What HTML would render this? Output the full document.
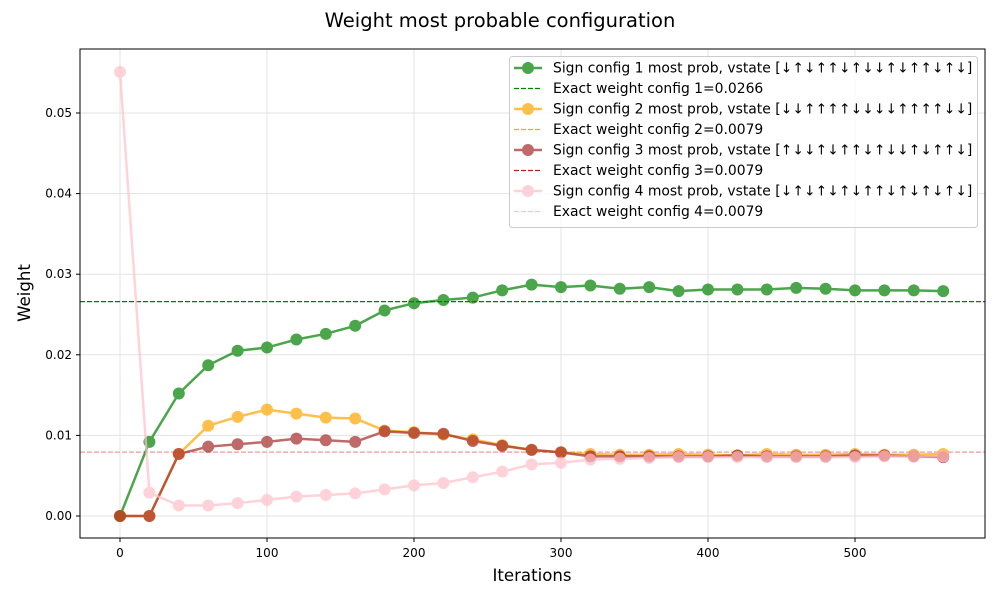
<!DOCTYPE html>
<html><head><meta charset="utf-8"><style>
body{margin:0;background:#fff;font-family:"Liberation Sans","DejaVu Sans",sans-serif}
</style></head><body>
<svg id="c" width="1000" height="600" style="font-family:'DejaVu Sans','Liberation Sans',sans-serif"></svg>
<script>
const iters=[0,20,40,60,80,100,120,140,160,180,200,220,240,260,280,300,320,340,360,380,400,420,440,460,480,500,520,540,560];
const s1=[0,0.0092,0.0152,0.0187,0.0205,0.0209,0.0219,0.0226,0.0236,0.0255,0.0264,0.0268,0.0271,0.0280,0.0287,0.0284,0.0286,0.0282,0.0284,0.0279,0.0281,0.0281,0.0281,0.0283,0.0282,0.0280,0.0280,0.0280,0.0279];
const s2=[0,0,0.0077,0.0112,0.0123,0.0132,0.0127,0.0122,0.0121,0.0106,0.0104,0.0101,0.0095,0.0088,0.0082,0.0079,0.0077,0.0076,0.0076,0.0077,0.0076,0.0075,0.0077,0.0076,0.0076,0.0077,0.0076,0.0076,0.0077];
const s3=[0,0,0.0077,0.0086,0.0089,0.0092,0.0096,0.0094,0.0092,0.0105,0.0103,0.0102,0.0093,0.0087,0.0082,0.0079,0.0074,0.0074,0.0074,0.0074,0.0074,0.0075,0.0074,0.0074,0.0074,0.0075,0.0075,0.0074,0.0073];
const s4=[0.0551,0.0029,0.0013,0.0013,0.0016,0.0020,0.0024,0.0026,0.0028,0.0033,0.0038,0.0041,0.0048,0.0055,0.0064,0.0066,0.0070,0.0071,0.0072,0.0073,0.0073,0.0073,0.0073,0.0073,0.0073,0.0073,0.0074,0.0074,0.0074];
const exact=[0.0266,0.0079,0.0079,0.0079];
const xTicks=[0,100,200,300,400,500];
const yTicks=[0,0.01,0.02,0.03,0.04,0.05];
const L=80,R=985,T=49,B=538;
const X=v=>120+v*1.47, Y=v=>516-v*8060;
const svg=document.getElementById('c');const NS='http://www.w3.org/2000/svg';
function mk(t,a,p){const e=document.createElementNS(NS,t);for(const k in a)e.setAttribute(k,a[k]);(p||svg).appendChild(e);return e;}
function txt(s,a){const e=mk('text',a);e.textContent=s;return e;}
let e;
e=txt('Weight most probable configuration',{x:500,y:27,'text-anchor':'middle','font-size':19.5});


xTicks.forEach(v=>{mk('line',{x1:X(v),x2:X(v),y1:T,y2:B,stroke:'#e3e3e3'});mk('line',{x1:X(v),x2:X(v),y1:B,y2:B+4,stroke:'#000'});
 e=txt(String(v),{x:X(v),y:B+19,'text-anchor':'middle','font-size':12});
 
 });
yTicks.forEach(v=>{mk('line',{x1:L,x2:R,y1:Y(v),y2:Y(v),stroke:'#e3e3e3'});mk('line',{x1:L-4,x2:L,y1:Y(v),y2:Y(v),stroke:'#000'});
 e=txt(v.toFixed(2),{x:L-8,y:Y(v)+4,'text-anchor':'end','font-size':12});
 
 });
e=txt('Iterations',{x:532,y:581,'text-anchor':'middle','font-size':16.6});


e=txt('Weight',{x:30,y:293,'text-anchor':'middle','font-size':16.6,transform:'rotate(-90 30 293)'});


const cols=['#008000','#ffa500','#a52a2a','#ffc0cb'];
const dcols=['#008000','#ffa500','#b22222','#ffc0cb'];
const series=[s1,s2,s3,s4];
const g=mk('g',{'clip-path':'url(#cp)'});
const cp=mk('clipPath',{id:'cp'});mk('rect',{x:L,y:T,width:R-L,height:B-T},cp);
exact.forEach((v,i)=>{e=mk('line',{x1:L,x2:R,y1:Y(v),y2:Y(v),stroke:dcols[i],'stroke-width':1.2,'stroke-dasharray':'5,2'},g);
 
 });
series.forEach((s,i)=>{const sg=mk('g',{opacity:0.7},g);
 
 
 mk('polyline',{points:s.map((v,j)=>X(iters[j])+','+Y(v)).join(' '),fill:'none',stroke:cols[i],'stroke-width':2.5},sg);
 s.forEach((v,j)=>{const c=mk('circle',{cx:X(iters[j]),cy:Y(v),r:6,fill:cols[i]},sg);
  
  });});
mk('rect',{x:L,y:T,width:R-L,height:B-T,fill:'none',stroke:'#000','stroke-width':1});
const lg=mk('g',{});


mk('rect',{x:509.5,y:56.5,width:468,height:171,rx:3,fill:'#fff','fill-opacity':0.8,stroke:'#ccc'},lg);
const labels=['Sign config 1 most prob, vstate [↓↑↓↑↑↓↑↓↓↑↓↑↑↓↑↓]','Exact weight config 1=0.0266','Sign config 2 most prob, vstate [↓↓↑↑↑↑↓↓↓↓↑↑↑↑↓↓]','Exact weight config 2=0.0079','Sign config 3 most prob, vstate [↑↓↓↑↓↑↑↓↑↓↓↑↓↑↑↓]','Exact weight config 3=0.0079','Sign config 4 most prob, vstate [↓↑↓↑↓↑↓↑↑↓↑↓↑↓↑↓]','Exact weight config 4=0.0079'];
labels.forEach((t,k)=>{const y=68+k*20.5, i=Math.floor(k/2);
 if(k%2==0){const mg=mk('g',{opacity:0.7},lg);mk('line',{x1:514,x2:542,y1:y,y2:y,stroke:cols[i],'stroke-width':2.5},mg);mk('circle',{cx:528,cy:y,r:6,fill:cols[i]},mg);}
 else mk('line',{x1:514,x2:542,y1:y,y2:y,stroke:dcols[i],'stroke-width':1.2,'stroke-dasharray':'5,2'},lg);
 e=txt(t,{x:553,y:y+4.5,'font-size':13.9});lg.appendChild(e);
 
 });
</script>
</body></html>
